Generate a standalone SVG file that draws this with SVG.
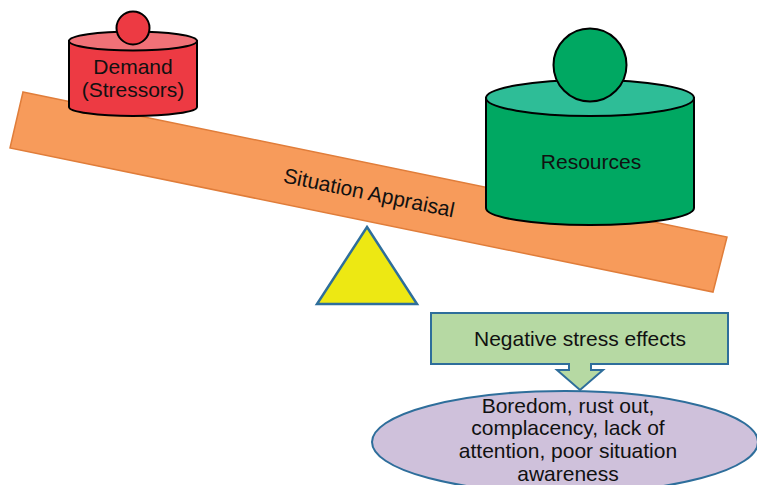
<svg xmlns="http://www.w3.org/2000/svg" width="757" height="485" viewBox="0 0 757 485">
<style>
text{font-family:"Liberation Sans",Arial,sans-serif;font-size:21px;fill:#111;text-anchor:middle}
.cyl{stroke:#000;stroke-width:2}
.blue{stroke:#2E6E9B;stroke-width:2}
</style>
<rect width="757" height="485" fill="#fff"/>
<g id="plank">
<polygon points="23,92 727,237 713,292 10,148" fill="#F79B5B" stroke="#E07D3A" stroke-width="1.5"/>
<text transform="rotate(11.6 369 193)" x="369" y="200" font-size="20">Situation Appraisal</text>
</g>
<g id="fulcrum">
<polygon points="367,227 417,304 317,304" fill="#EDE813" stroke="#2E6E9B" stroke-width="2.5" stroke-linejoin="miter"/>
</g>
<g id="demand">
<path class="cyl" d="M69,41 V107 A64,9 0 0 0 197,107 V41 Z" fill="#ED3A43"/>
<ellipse class="cyl" cx="133" cy="41" rx="64" ry="9.5" fill="#F07177"/>
<circle class="cyl" cx="133" cy="28" r="16.5" fill="#ED3A43"/>
<text x="133" y="74">Demand</text>
<text x="133" y="97">(Stressors)</text>
</g>
<g id="resources">
<path class="cyl" d="M486,98 V208 A104,17 0 0 0 694,208 V98 Z" fill="#00A862"/>
<ellipse class="cyl" cx="590" cy="98" rx="104" ry="18" fill="#2EBD97"/>
<circle class="cyl" cx="590" cy="65" r="36.5" fill="#00A862"/>
<text x="591" y="169">Resources</text>
</g>
<g id="outcome">
<ellipse class="blue" cx="565" cy="442" rx="193" ry="51" fill="#CFC1DB"/>
<text x="568" y="413">Boredom, rust out,</text>
<text x="568" y="435">complacency, lack of</text>
<text x="568" y="458">attention, poor situation</text>
<text x="568" y="481">awareness</text>
</g>
<g id="negative-effects">
<rect class="blue" x="431" y="313" width="297" height="51" fill="#B6D9A3"/>
<text x="580" y="346">Negative stress effects</text>
</g>
<g id="connectors">
<path class="blue" d="M569,363 V370 H557 L580,390 L603,370 H591 V363" fill="#B6D9A3"/>
</g>
</svg>
